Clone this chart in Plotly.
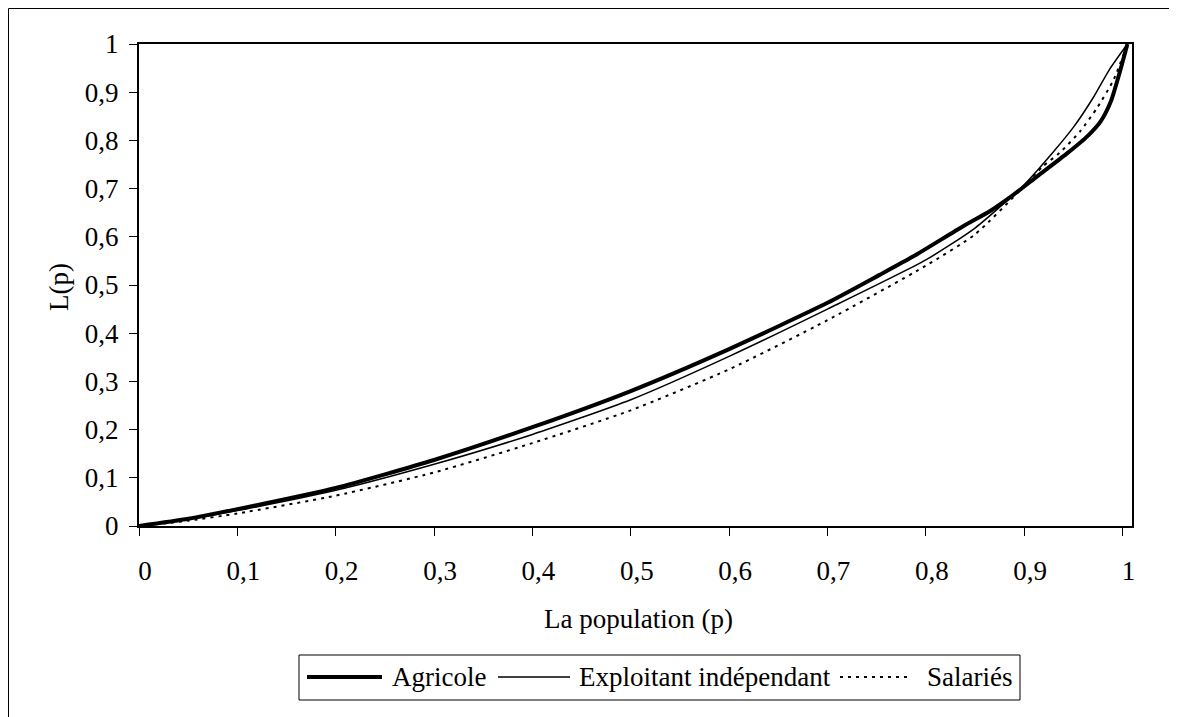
import plotly.graph_objects as go

# Data (Lorenz curves)
p_agricole = [0, 0.05, 0.1, 0.2, 0.3, 0.4, 0.5, 0.6, 0.7, 0.753, 0.787, 0.838, 0.865, 0.889, 0.913, 0.943, 0.965, 0.978, 0.988, 0.997, 1.005]
L_agricole = [0, 0.015, 0.035, 0.079, 0.137, 0.205, 0.28, 0.367, 0.463, 0.521, 0.559, 0.622, 0.653, 0.687, 0.725, 0.772, 0.81, 0.84, 0.88, 0.94, 1.0]

p_exploitant = [0, 0.05, 0.1, 0.2, 0.3, 0.4, 0.5, 0.6, 0.7, 0.8, 0.85, 0.9, 0.93, 0.95, 0.97, 0.987, 1.005]
L_exploitant = [0, 0.014, 0.032, 0.074, 0.128, 0.19, 0.262, 0.352, 0.45, 0.552, 0.618, 0.708, 0.777, 0.827, 0.888, 0.948, 1.0]

p_salaries = [0, 0.05, 0.1, 0.2, 0.3, 0.4, 0.5, 0.6, 0.7, 0.8, 0.85, 0.9, 0.919, 0.936, 0.957, 0.974, 0.991, 1.005]
L_salaries = [0, 0.011, 0.026, 0.063, 0.111, 0.172, 0.24, 0.325, 0.427, 0.54, 0.605, 0.705, 0.746, 0.774, 0.819, 0.867, 0.926, 1.0]

series_names = ["Agricole", "Exploitant indépendant", "Salariés"]

tick_vals = [0, 0.1, 0.2, 0.3, 0.4, 0.5, 0.6, 0.7, 0.8, 0.9, 1]
tick_text = ["0", "0,1", "0,2", "0,3", "0,4", "0,5", "0,6", "0,7", "0,8", "0,9", "1"]

FONT = "Tinos, Liberation Serif, DejaVu Serif"
W, H = 1177, 717
OFF = 8  # page body margin
ML, MR, MT, MB = 131, 53, 36, 199
PW = W - ML - MR
PH = H - MT - MB


def px_x(x):
    return (x - OFF - ML) / PW


def px_y(y):
    return (H - MB - (y - OFF)) / PH


styles = [
    dict(color="black", width=4),
    dict(color="black", width=1.5),
    dict(color="black", width=2, dash="3px,5px"),
]

fig = go.Figure()
for name, xs, ys, st in zip(series_names,
                            [p_agricole, p_exploitant, p_salaries],
                            [L_agricole, L_exploitant, L_salaries], styles):
    fig.add_trace(go.Scatter(x=xs, y=ys, mode="lines", name=name, showlegend=False,
                             line=dict(shape="spline", smoothing=0.6, **st)))

# Legend drawn as a box with line samples and labels (Excel-style, long samples)
LEG_Y = 677
sample_x = [(307, 382), (498, 570), (840, 907)]
text_x = [390, 577, 925]
shapes = [
    dict(type="rect", xref="paper", yref="paper",
         x0=px_x(8.5), x1=px_x(1300), y0=px_y(900), y1=px_y(8.5),
         line=dict(color="black", width=1), fillcolor="rgba(0,0,0,0)", layer="below"),
    dict(type="rect", xref="paper", yref="paper",
         x0=px_x(299), x1=px_x(1020), y0=px_y(700), y1=px_y(655),
         line=dict(color="black", width=1), fillcolor="white", layer="above"),
]
annotations = [
    dict(text="La population (p)", xref="paper", yref="paper", x=px_x(638), y=px_y(619),
         xanchor="center", yanchor="middle", showarrow=False, font=dict(family=FONT, size=27)),
    dict(text="L(p)", xref="paper", yref="paper", x=px_x(59), y=px_y(287),
         xanchor="center", yanchor="middle", showarrow=False, textangle=-90,
         font=dict(family=FONT, size=27)),
]
for (x0, x1), tx, name, st in zip(sample_x, text_x, series_names, styles):
    shapes.append(dict(type="line", xref="paper", yref="paper",
                       x0=px_x(x0), x1=px_x(x1), y0=px_y(LEG_Y), y1=px_y(LEG_Y),
                       line=st, layer="above"))
    annotations.append(dict(text=name, xref="paper", yref="paper", x=px_x(tx), y=px_y(LEG_Y),
                            xanchor="left", yanchor="middle", showarrow=False,
                            font=dict(family=FONT, size=27)))

fig.update_layout(
    width=W, height=H,
    margin=dict(l=ML, r=MR, t=MT, b=MB),
    paper_bgcolor="white", plot_bgcolor="white",
    font=dict(family=FONT, size=27, color="black"),
    showlegend=False,
    shapes=shapes,
    annotations=annotations,
)

fig.update_xaxes(range=[0, PW / 983.5], tickvals=tick_vals, ticktext=tick_text,
                 tickfont=dict(family=FONT, size=27),
                 showgrid=False, zeroline=False, showline=True, linecolor="black", linewidth=2,
                 mirror=True, ticks="outside", ticklen=8, tickcolor="black", tickwidth=1,
                 ticklabelstandoff=12, ticklabelshift=6)
fig.update_yaxes(range=[0, 1], tickvals=tick_vals, ticktext=tick_text,
                 tickfont=dict(family=FONT, size=27),
                 showgrid=False, zeroline=False, showline=True, linecolor="black", linewidth=2,
                 mirror=True, ticks="outside", ticklen=8, tickcolor="black", tickwidth=1,
                 ticklabelstandoff=5)

fig.write_html("out.html")
